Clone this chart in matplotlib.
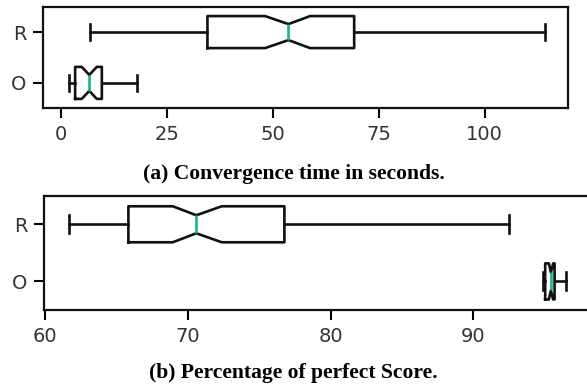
import matplotlib
matplotlib.use("Agg")
import matplotlib.pyplot as plt

labels = ['O', 'R']

# (a) convergence time in seconds
conv_whislo = [1.96, 6.9]
conv_q1 = [3.4, 34.6]
conv_med = [6.75, 53.7]
conv_q3 = [9.7, 69.2]
conv_whishi = [17.9, 114.2]
conv_cilo = [4.95, 48.2]
conv_cihi = [8.5, 58.8]

# (b) percentage of perfect score
score_whislo = [94.9, 61.7]
score_q1 = [95.04, 65.84]
score_med = [95.44, 70.6]
score_q3 = [95.7, 76.77]
score_whishi = [96.51, 92.5]
score_cilo = [95.3, 68.95]
score_cihi = [95.6, 72.38]

MED_COLOR = '#19b38a'


def make_stats(whislo, q1, med, q3, whishi, cilo, cihi):
    stats = []
    for i in range(len(labels)):
        stats.append(dict(label=labels[i], whislo=whislo[i], q1=q1[i], med=med[i],
                          q3=q3[i], whishi=whishi[i], cilo=cilo[i], cihi=cihi[i],
                          fliers=[]))
    return stats


def draw(ax, stats):
    line = dict(color='#111111', linewidth=1.9)
    ax.bxp(stats, vert=False, shownotches=True, widths=0.63, showfliers=False,
           boxprops=line, whiskerprops=line, capprops=line,
           medianprops=dict(color=MED_COLOR, linewidth=1.9))
    ax.set_ylim(0.5, 2.5)
    for s in ax.spines.values():
        s.set_linewidth(1.6)
        s.set_color('#111111')
    ax.tick_params(axis='both', labelsize=14, length=7, width=1.5, pad=5,
                   labelcolor='#333333')


fig = plt.figure(figsize=(5.87, 3.89), dpi=100)

ax1 = fig.add_axes([0.0738, 0.7216, 0.8944, 0.2612])
draw(ax1, make_stats(conv_whislo, conv_q1, conv_med, conv_q3, conv_whishi, conv_cilo, conv_cihi))
ax1.set_xlim(-4.1, 119.7)
ax1.set_xticks([0, 25, 50, 75, 100])

ax2 = fig.add_axes([0.0755, 0.2031, 0.9313, 0.2938])
draw(ax2, make_stats(score_whislo, score_q1, score_med, score_q3, score_whishi, score_cilo, score_cihi))
ax2.set_xlim(59.95, 98.25)
ax2.set_xticks([60, 70, 80, 90])

cap = dict(ha='center', va='baseline', fontsize=15.6, fontweight='bold',
           family=['Liberation Serif', 'DejaVu Serif'])
fig.text(0.5, 0.539, '(a) Convergence time in seconds.', **cap)
fig.text(0.5, 0.0275, '(b) Percentage of perfect Score.', **cap)

fig.savefig('out.png', dpi=100)
